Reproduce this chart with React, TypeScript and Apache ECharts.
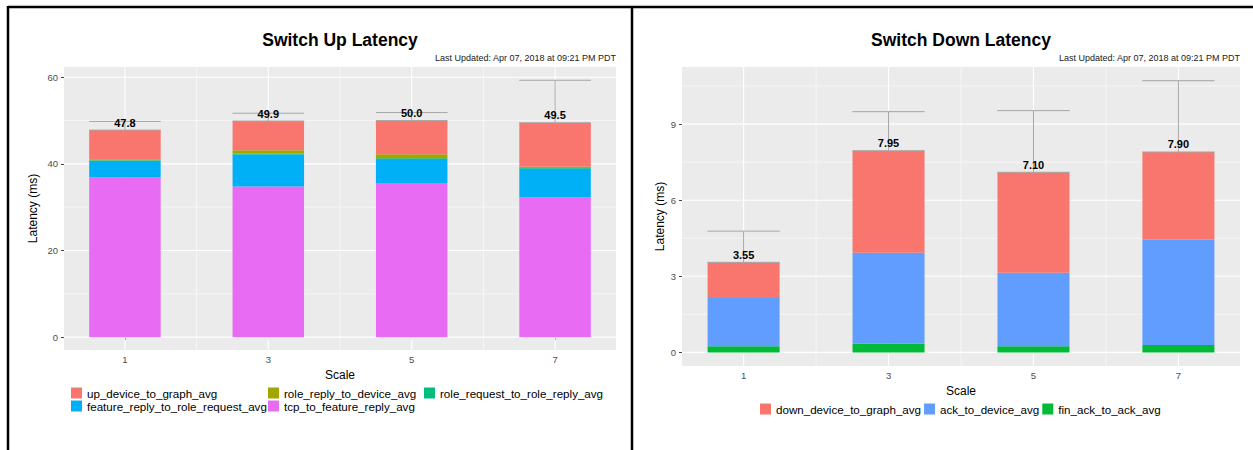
import React, { useEffect, useRef } from "react";
import * as echarts from "echarts";

const FONT = "'Liberation Sans', Arial, Helvetica, sans-serif";

// ---- shared x scale ----
const scales = [1, 3, 5, 7];
const scaleLabels = ["1", "3", "5", "7"];
const xMinor = [2, 4, 6];
const X_MIN = 0.15;
const X_MAX = 7.85;

// ---- Switch Up Latency (ms) ----
const upTcp = [36.9, 34.8, 35.6, 32.3];
const upFeature = [3.8, 7.35, 5.5, 6.6];
const upRoleRequest = [0.15, 0.25, 0.2, 0.35];
const upRoleReply = [0.2, 0.75, 0.95, 0.1];
const upDevice = [6.75, 6.75, 7.75, 10.15];
const upTotals = [47.8, 49.9, 50.0, 49.5];
const upErrHigh = [49.8, 51.7, 51.85, 59.3];
const upYTicks = [0, 20, 40, 60];
const upYMinor = [10, 30, 50];
const UP_Y_MIN = -2.97;
const UP_Y_MAX = 62.37;

// ---- Switch Down Latency (ms) ----
const downFin = [0.24, 0.34, 0.24, 0.29];
const downAck = [1.9, 3.59, 2.9, 4.16];
const downDevice = [1.41, 4.02, 3.96, 3.45];
const downTotals = [3.55, 7.95, 7.1, 7.9];
const downErrHigh = [4.78, 9.49, 9.53, 10.71];
const downYTicks = [0, 3, 6, 9];
const downYMinor = [1.5, 4.5, 7.5, 10.5];
const DOWN_Y_MIN = -0.536;
const DOWN_Y_MAX = 11.25;

const upSeries = [
  { name: "tcp_to_feature_reply_avg", data: upTcp, color: "#E76BF3" },
  { name: "feature_reply_to_role_request_avg", data: upFeature, color: "#00B0F6" },
  { name: "role_request_to_role_reply_avg", data: upRoleRequest, color: "#00BF7D" },
  { name: "role_reply_to_device_avg", data: upRoleReply, color: "#A3A500" },
  { name: "up_device_to_graph_avg", data: upDevice, color: "#F8766D" },
];
const downSeries = [
  { name: "fin_ack_to_ack_avg", data: downFin, color: "#00BA38" },
  { name: "ack_to_device_avg", data: downAck, color: "#619CFF" },
  { name: "down_device_to_graph_avg", data: downDevice, color: "#F8766D" },
];

// panel layout (px)
const panels = [
  { left: 64, top: 67, width: 552, height: 283 },
  { left: 682, top: 67, width: 558, height: 299 },
];
// category grids aligned so that band centres fall on the value-axis positions 1,3,5,7
const barGrids = panels.map((p) => {
  const pxPerUnit = p.width / (X_MAX - X_MIN);
  const band = 2 * pxPerUnit;
  const c1 = p.left + (scales[0] - X_MIN) * pxPerUnit;
  return { left: c1 - band / 2, top: p.top, width: band * scales.length, height: p.height, show: false };
});

function gridLines(idx: number, values: number[], vertical: boolean, width: number) {
  return {
    type: "custom",
    xAxisIndex: idx,
    yAxisIndex: idx,
    z: 1,
    silent: true,
    data: values.map((v) => (vertical ? [v, 0] : [1, v])),
    renderItem: (params: any, api: any) => {
      const cs = params.coordSys;
      const p = api.coord([api.value(0), api.value(1)]);
      const shape = vertical
        ? { x1: p[0], y1: cs.y, x2: p[0], y2: cs.y + cs.height }
        : { x1: cs.x, y1: p[1], x2: cs.x + cs.width, y2: p[1] };
      return { type: "line", shape, style: { stroke: "#FFFFFF", lineWidth: width } };
    },
  };
}

function errorBars(idx: number, totals: number[], highs: number[], digits: number) {
  const labels = totals.map((t) => t.toFixed(digits));
  return {
    type: "custom",
    xAxisIndex: idx,
    yAxisIndex: idx,
    z: 5,
    silent: true,
    data: scales.map((s, i) => [s, totals[i], highs[i]]),
    renderItem: (params: any, api: any) => {
      const x = api.value(0);
      const a = api.coord([x, api.value(1)]);
      const b = api.coord([x, api.value(2)]);
      const w = api.size([1, 0])[0] / 2;
      const stroke = "#A6A6A6";
      return {
        type: "group",
        children: [
          { type: "line", shape: { x1: a[0], y1: a[1], x2: b[0], y2: b[1] }, style: { stroke, lineWidth: 1 } },
          { type: "line", shape: { x1: a[0] - w, y1: b[1], x2: a[0] + w, y2: b[1] }, style: { stroke, lineWidth: 1 } },
          { type: "line", shape: { x1: a[0] - w, y1: a[1], x2: a[0] + w, y2: a[1] }, style: { stroke, lineWidth: 1 } },
          {
            type: "text",
            x: a[0],
            y: a[1] - 2,
            style: {
              text: labels[params.dataIndex],
              align: "center",
              verticalAlign: "bottom",
              fontSize: 11,
              fontWeight: "bold",
              fontFamily: FONT,
              fill: "#000",
            },
          },
        ],
      };
    },
  };
}

function xAxis(idx: number, nameGap: number) {
  return {
    type: "value",
    gridIndex: idx,
    min: X_MIN,
    max: X_MAX,
    axisLine: { show: false },
    axisTick: { show: true, customValues: scales, length: 3, lineStyle: { color: "#444", width: 1 } },
    axisLabel: { customValues: scales, color: "#4D4D4D", fontSize: 9.5, margin: 4, fontFamily: FONT },
    splitLine: { show: false },
    name: "Scale",
    nameLocation: "middle",
    nameGap,
    nameTextStyle: { fontSize: 12, color: "#000", fontFamily: FONT },
  };
}

function yAxis(idx: number, min: number, max: number, ticks: number[], nameGap: number) {
  return {
    type: "value",
    gridIndex: idx,
    min,
    max,
    axisLine: { show: false },
    axisTick: { show: true, customValues: ticks, length: 3, lineStyle: { color: "#444", width: 1 } },
    axisLabel: { customValues: ticks, color: "#4D4D4D", fontSize: 9.5, margin: 6, fontFamily: FONT },
    splitLine: { show: false },
    name: "Latency (ms)",
    nameLocation: "middle",
    nameGap,
    nameRotate: 90,
    nameTextStyle: { fontSize: 12, color: "#000", fontFamily: FONT },
  };
}

function catAxis(gridIndex: number) {
  return { type: "category", gridIndex, data: scaleLabels, boundaryGap: true, show: false };
}
function hiddenY(gridIndex: number, min: number, max: number) {
  return { type: "value", gridIndex, min, max, show: false, splitLine: { show: false } };
}

function bars(idx: number, list: { name: string; data: number[]; color: string }[], stack: string, width: number) {
  return list.map((s) => ({
    type: "bar",
    name: s.name,
    xAxisIndex: idx,
    yAxisIndex: idx,
    stack,
    barWidth: width,
    z: 2,
    itemStyle: { color: s.color },
    data: s.data,
  }));
}

const legendBase = {
  selectedMode: false,
  icon: "rect",
  itemWidth: 11,
  itemHeight: 11,
  padding: 0,
  textStyle: { fontSize: 11.6, lineHeight: 13, color: "#000", fontFamily: FONT },
};

const lastUpdated = "Last Updated: Apr 07, 2018 at 09:21 PM PDT";

const option: any = {
  animation: false,
  backgroundColor: "#FFFFFF",
  grid: [
    { ...panels[0], show: true, backgroundColor: "#EBEBEB", borderWidth: 0 },
    { ...panels[1], show: true, backgroundColor: "#EBEBEB", borderWidth: 0 },
    barGrids[0],
    barGrids[1],
  ],
  xAxis: [xAxis(0, 13), xAxis(1, 14), catAxis(2), catAxis(3)],
  yAxis: [
    yAxis(0, UP_Y_MIN, UP_Y_MAX, upYTicks, 25),
    yAxis(1, DOWN_Y_MIN, DOWN_Y_MAX, downYTicks, 16),
    hiddenY(2, UP_Y_MIN, UP_Y_MAX),
    hiddenY(3, DOWN_Y_MIN, DOWN_Y_MAX),
  ],
  legend: [
    { ...legendBase, orient: "vertical", left: 71, top: 386.5, itemGap: 0, data: ["up_device_to_graph_avg", "feature_reply_to_role_request_avg"] },
    { ...legendBase, orient: "vertical", left: 268, top: 386.5, itemGap: 0, data: ["role_reply_to_device_avg", "tcp_to_feature_reply_avg"] },
    { ...legendBase, orient: "vertical", left: 424, top: 386.5, itemGap: 0, data: ["role_request_to_role_reply_avg"] },
    { ...legendBase, orient: "horizontal", left: 760, top: 402.5, itemGap: 3, data: ["down_device_to_graph_avg", "ack_to_device_avg", "fin_ack_to_ack_avg"] },
  ],
  graphic: [
    { type: "line", shape: { x1: 8, y1: 7, x2: 1253, y2: 7 }, style: { stroke: "#000", lineWidth: 2.5 } },
    { type: "line", shape: { x1: 8, y1: 6, x2: 8, y2: 450 }, style: { stroke: "#000", lineWidth: 2.5 } },
    { type: "line", shape: { x1: 632, y1: 6, x2: 632, y2: 450 }, style: { stroke: "#000", lineWidth: 2.5 } },
    { type: "text", x: 340, y: 40, style: { text: "Switch Up Latency", align: "center", verticalAlign: "middle", fontSize: 17.5, fontWeight: "bold", fontFamily: FONT, fill: "#000" } },
    { type: "text", x: 616, y: 58, style: { text: lastUpdated, align: "right", verticalAlign: "middle", fontSize: 9, fontFamily: FONT, fill: "#1A1A1A" } },
    { type: "text", x: 961, y: 40, style: { text: "Switch Down Latency", align: "center", verticalAlign: "middle", fontSize: 17.5, fontWeight: "bold", fontFamily: FONT, fill: "#000" } },
    { type: "text", x: 1240, y: 58, style: { text: lastUpdated, align: "right", verticalAlign: "middle", fontSize: 9, fontFamily: FONT, fill: "#1A1A1A" } },
  ],
  series: [
    gridLines(0, xMinor, true, 0.55),
    gridLines(0, upYMinor, false, 0.55),
    gridLines(0, scales, true, 1.1),
    gridLines(0, upYTicks, false, 1.1),
    gridLines(1, xMinor, true, 0.55),
    gridLines(1, downYMinor, false, 0.55),
    gridLines(1, scales, true, 1.1),
    gridLines(1, downYTicks, false, 1.1),
    ...bars(2, upSeries, "up", 71.5),
    ...bars(3, downSeries, "down", 72),
    errorBars(0, upTotals, upErrHigh, 1),
    errorBars(1, downTotals, downErrHigh, 2),
  ],
};

export default function App() {
  const ref = useRef<HTMLDivElement>(null);
  useEffect(() => {
    const chart = echarts.init(ref.current!, null, { renderer: "svg" });
    chart.setOption(option);
    return () => chart.dispose();
  }, []);
  return (
    <div
      ref={ref}
      style={{ position: "fixed", left: 0, top: 0, width: 1253, height: 450, background: "#fff" }}
    />
  );
}
